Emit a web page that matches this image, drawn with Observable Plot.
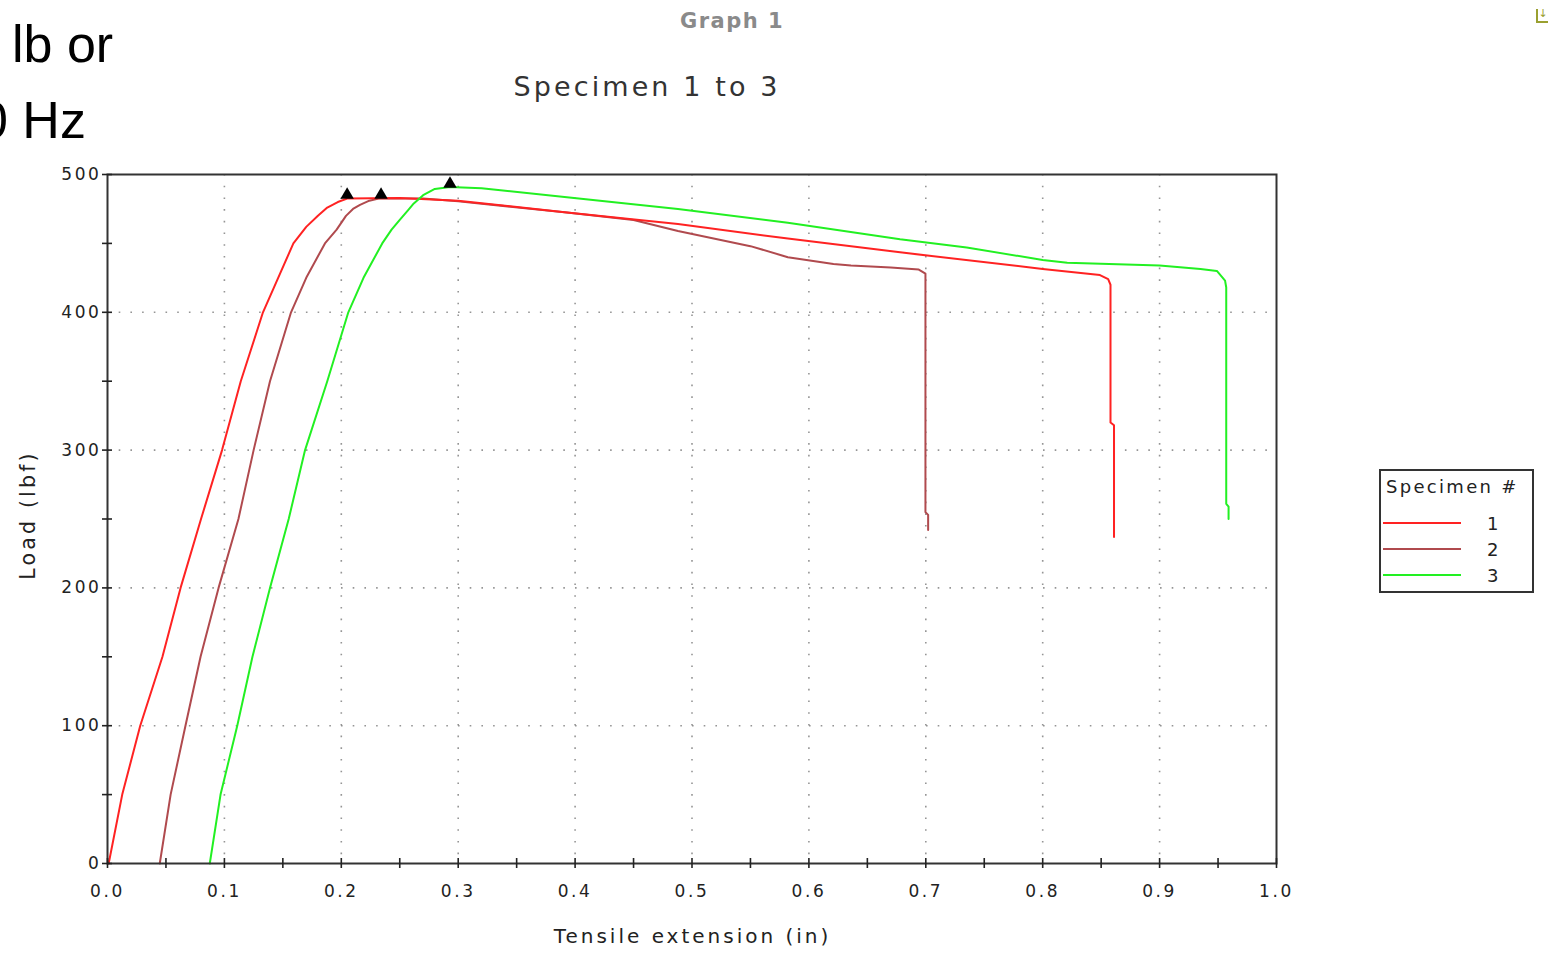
<!DOCTYPE html>
<html>
<head>
<meta charset="utf-8">
<script src="https://cdn.jsdelivr.net/npm/d3@7"></script>
<script src="https://cdn.jsdelivr.net/npm/@observablehq/plot@0.6"></script>
<style>
  html, body { margin: 0; padding: 0; background: #fff; width: 1557px; height: 953px; overflow: hidden; position: relative; }
  #chart { position: absolute; left: 0; top: 0; }
  #chart svg text { letter-spacing: 2.6px; font-size: 17px; }
  .abs { position: absolute; white-space: nowrap; }
  .slide { font-family: "Liberation Sans", Arial, sans-serif; font-size: 52px; color: #000; line-height: 1; }
  .ctext { font-family: "DejaVu Sans", Verdana, sans-serif; color: #222; }
</style>
</head>
<body>
<div class="abs slide" style="left:12px; top:18px;">lb or</div>
<div class="abs slide" style="left:-21px; top:94px;">0 Hz</div>
<div class="abs ctext" id="graphTitle" style="left:0; width:1464px; text-align:center; top:9px; font-size:21px; font-weight:bold; color:#8a8a8a; letter-spacing:1.5px;">Graph 1</div>
<div class="abs ctext" id="subTitle" style="left:0; width:1294px; text-align:center; top:71px; font-size:27px; color:#333; letter-spacing:3.1px;">Specimen 1 to 3</div>
<div class="abs ctext" id="xLabel" style="left:0; width:1385px; text-align:center; top:924px; font-size:20px; letter-spacing:3px; color:#222;">Tensile extension (in)</div>
<div class="abs ctext" id="yLabel" style="left:28px; top:515px; font-size:20.5px; letter-spacing:3.2px; color:#222; transform: translate(-50%,-50%) rotate(-90deg);">Load (lbf)</div>
<div class="abs" style="left:1536px; top:9px; width:10px; height:12px; border-left:2px solid #9aa030; border-bottom:2px solid #9aa030; font-size:11px; line-height:10px; color:#9aa030; text-align:center; font-family:'DejaVu Sans';">↓</div>
<div id="chart"></div>
<div id="legend" class="abs ctext" style="left:1379px; top:469px; width:151px; height:120px; border:2px solid #333;"></div>
<script>
// ---- data ----
const specimens = ["1", "2", "3"];
const colors = ["#ff2222", "#b04a4e", "#22f022"];

const ext1 = [0.001, 0.0126, 0.028, 0.047, 0.0625, 0.080, 0.098, 0.114, 0.133, 0.146, 0.159, 0.17, 0.18, 0.188, 0.197, 0.205, 0.25, 0.3, 0.393, 0.488, 0.582, 0.678, 0.8, 0.849, 0.856, 0.858, 0.858, 0.861, 0.861];
const load1 = [0, 50, 100, 150, 200, 250, 300, 350, 400, 425, 450, 462, 470, 476, 480, 482.5, 483, 481, 472.5, 464, 453.5, 443.5, 431.5, 427, 424, 420, 320, 318, 237];

const ext2 = [0.0447, 0.054, 0.0667, 0.0796, 0.095, 0.112, 0.125, 0.139, 0.157, 0.17, 0.186, 0.196, 0.204, 0.21, 0.216, 0.224, 0.232, 0.27, 0.3, 0.393, 0.45, 0.488, 0.55, 0.582, 0.621, 0.636, 0.67, 0.694, 0.6997, 0.6997, 0.702, 0.702];
const load2 = [0, 50, 100, 150, 200, 250, 300, 350, 400, 425, 450, 460, 470, 475, 478, 481, 482.5, 482.5, 480.5, 472.5, 467, 459, 448, 440, 435, 434, 432.5, 431, 428, 255, 253, 242];

const ext3 = [0.0875, 0.0967, 0.111, 0.124, 0.139, 0.155, 0.169, 0.188, 0.206, 0.219, 0.235, 0.243, 0.25, 0.257, 0.262, 0.27, 0.28, 0.293, 0.32, 0.393, 0.488, 0.582, 0.678, 0.735, 0.8, 0.821, 0.9, 0.935, 0.949, 0.956, 0.957, 0.957, 0.959, 0.959];
const load3 = [0, 50, 100, 150, 200, 250, 300, 350, 400, 425, 450, 460, 467, 474, 479, 485, 489.5, 491, 490, 483.5, 475, 465, 453, 447, 438, 436, 434, 431.5, 430, 423, 418, 261, 259, 250];

const peakExt = [0.205, 0.234, 0.293];
const peakLoad = [483, 483, 491];

const xTickLabels = [0, 0.1, 0.2, 0.3, 0.4, 0.5, 0.6, 0.7, 0.8, 0.9, 1.0];
const xMinorTicks = [0, 0.05, 0.1, 0.15, 0.2, 0.25, 0.3, 0.35, 0.4, 0.45, 0.5, 0.55, 0.6, 0.65, 0.7, 0.75, 0.8, 0.85, 0.9, 0.95, 1.0];
const xGridTicks = [0.1, 0.2, 0.3, 0.4, 0.5, 0.6, 0.7, 0.8, 0.9];
const yTickLabels = [0, 100, 200, 300, 400, 500];
const yMinorTicks = [0, 50, 100, 150, 200, 250, 300, 350, 400, 450, 500];
const yGridTicks = [100, 200, 300, 400];

// ---- build table ----
const series = [[ext1, load1], [ext2, load2], [ext3, load3]];
const rows = [];
series.forEach(([xs, ys], k) => xs.forEach((x, i) => rows.push({ext: x, load: ys[i], specimen: specimens[k]})));
const drawOrder = ["2", "1", "3"];
const ordered = drawOrder.flatMap(s => rows.filter(r => r.specimen === s));
const peaks = peakExt.map((x, i) => ({ext: x, load: peakLoad[i]}));

const chart = Plot.plot({
  width: 1557,
  height: 953,
  marginLeft: 107,
  marginRight: 281,
  marginTop: 174,
  marginBottom: 90,
  x: {domain: [0, 1], label: null},
  y: {domain: [0, 500], label: null},
  color: {domain: specimens, range: colors},
  style: {fontFamily: "DejaVu Sans, Verdana, sans-serif", fontSize: "17px", color: "#222", background: "transparent"},
  marks: [
    Plot.gridX(xGridTicks, {stroke: "#8a8a8a", strokeOpacity: 0.9, strokeWidth: 1.6, strokeDasharray: "1.6,10.1"}),
    Plot.gridY(yGridTicks, {stroke: "#8a8a8a", strokeOpacity: 0.9, strokeWidth: 1.6, strokeDasharray: "1.6,10.1"}),
    Plot.line(ordered, {x: "ext", y: "load", z: "specimen", stroke: "specimen", strokeWidth: 2, curve: "linear"}),
    Plot.dot(peaks, {x: "ext", y: "load", symbol: "triangle", fill: "black", r: 5, dy: -3}),
    Plot.frame({stroke: "#333", strokeWidth: 2}),
    Plot.axisX(xMinorTicks, {tickSize: 10, dy: -5, fill: "none", stroke: "#222", strokeWidth: 1.6, label: null}),
    Plot.axisX(xTickLabels, {tickSize: 0, tickPadding: 21, stroke: "none", fontSize: 17, tickFormat: d => d.toFixed(1), label: null, fill: "#222"}),
    Plot.axisY(yMinorTicks, {tickSize: 10, dx: 5, fill: "none", stroke: "#222", strokeWidth: 1.6, label: null}),
    Plot.axisY(yTickLabels, {tickSize: 0, tickPadding: 6, stroke: "none", fontSize: 17, label: null, fill: "#222"})
  ]
});
document.getElementById("chart").appendChild(chart);

// ---- legend ----
const legend = document.getElementById("legend");
const head = document.createElement("div");
head.textContent = "Specimen #";
head.style.cssText = "position:absolute; left:5px; top:5px; font-size:18px; letter-spacing:2.3px; color:#222;";
legend.appendChild(head);
specimens.forEach((s, i) => {
  const line = document.createElement("div");
  line.style.cssText = `position:absolute; left:2px; top:${51 + i * 26}px; width:78px; height:2px; background:${colors[i]};`;
  legend.appendChild(line);
  const lab = document.createElement("div");
  lab.textContent = s;
  lab.style.cssText = `position:absolute; left:106px; top:${42 + i * 26}px; font-size:18px; color:#222;`;
  legend.appendChild(lab);
});
</script>
</body>
</html>
